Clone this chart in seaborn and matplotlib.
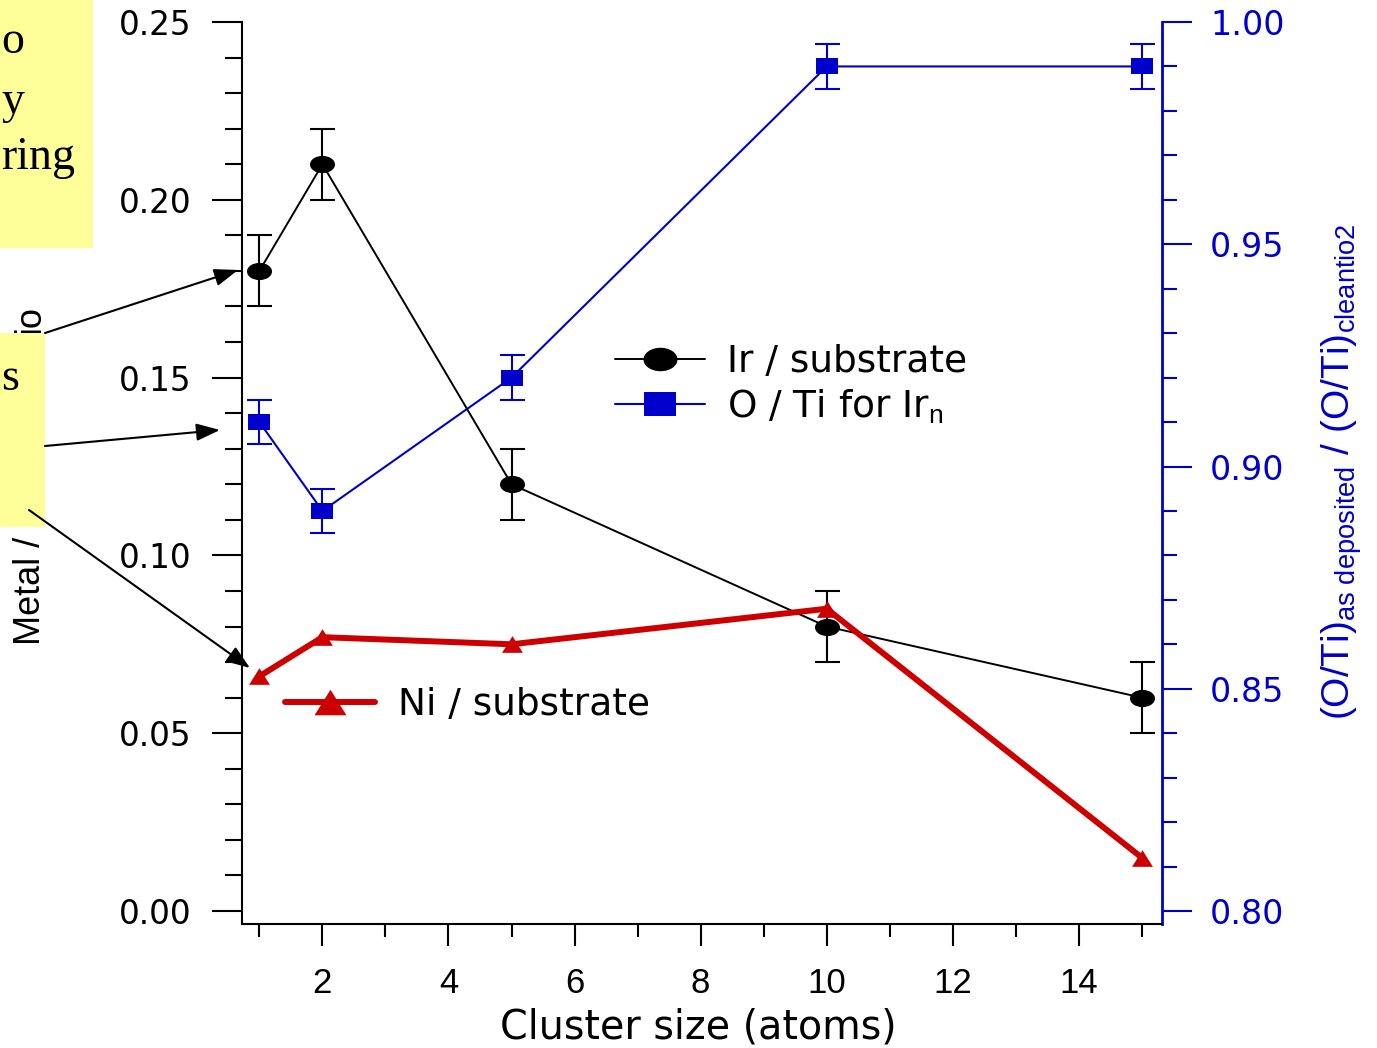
import matplotlib
matplotlib.use("Agg")
import matplotlib.pyplot as plt
import seaborn as sns
from matplotlib.path import Path
from matplotlib.lines import Line2D
from matplotlib.patches import Rectangle, FancyArrowPatch
from matplotlib.ticker import MultipleLocator, FixedLocator

# ---- data ----
cluster_size = [1, 2, 5, 10, 15]
ir_substrate = [0.18, 0.21, 0.12, 0.08, 0.06]
ir_substrate_err = [0.01, 0.01, 0.01, 0.01, 0.01]
o_ti_ratio = [0.91, 0.89, 0.92, 0.99, 0.99]
o_ti_ratio_err = [0.005, 0.005, 0.005, 0.005, 0.005]
ni_substrate = [0.066, 0.077, 0.075, 0.085, 0.015]

x_major_ticks = [2, 4, 6, 8, 10, 12, 14]
x_minor_ticks = [1, 3, 5, 7, 9, 11, 13, 15]
left_ticks = [0.00, 0.05, 0.10, 0.15, 0.20, 0.25]
right_ticks = [0.80, 0.85, 0.90, 0.95, 1.00]

BLUE = "#0000CC"
RED = "#CC0000"
YELLOW = "#FFFF99"

sns.set_theme(style="ticks")
plt.rcParams["font.family"] = ["DejaVu Sans"]
plt.rcParams["text.color"] = "black"
plt.rcParams["axes.labelcolor"] = "black"
plt.rcParams["mathtext.fontset"] = "custom"
plt.rcParams["mathtext.rm"] = "Liberation Sans"
plt.rcParams["mathtext.it"] = "Liberation Sans:italic"
plt.rcParams["mathtext.bf"] = "Liberation Sans:bold"

W, H = 1377, 1048


def fx(px):
    return px / W


def fy(py):
    return 1 - py / H


fig = plt.figure(figsize=(W / 100, H / 100), dpi=100)
fig.patch.set_facecolor("white")

ax = fig.add_axes([fx(242), fy(924), (1162 - 242) / W, (924 - 22) / H])
ax2 = ax.twinx()
ax2.set_zorder(1)
ax.set_zorder(2)
ax.patch.set_visible(False)

# marker shapes: flattened ellipse, wide rectangle, wide triangle
_circ = Path.unit_circle()
ellipse = Path(_circ.vertices * [1.45, 1.0], _circ.codes)
rect = Path([(-1.35, -1), (1.35, -1), (1.35, 1), (-1.35, 1), (-1.35, -1)],
            [Path.MOVETO, Path.LINETO, Path.LINETO, Path.LINETO, Path.CLOSEPOLY])
tri = Path([(-1.25, -1), (1.25, -1), (0, 1), (-1.25, -1)],
           [Path.MOVETO, Path.LINETO, Path.LINETO, Path.CLOSEPOLY])

# O/Ti on the right axis
ax2.errorbar(cluster_size, o_ti_ratio, yerr=o_ti_ratio_err, fmt="none",
             ecolor=BLUE, elinewidth=1.5, capsize=9, capthick=1.5, zorder=2)
sns.lineplot(x=cluster_size, y=o_ti_ratio, ax=ax2, color=BLUE, linewidth=1.5,
             marker=rect, markersize=16.5, markeredgecolor=BLUE,
             markeredgewidth=0, errorbar=None, zorder=3)

# metal / substrate on the left axis
ax.errorbar(cluster_size, ir_substrate, yerr=ir_substrate_err, fmt="none",
            ecolor="black", elinewidth=1.5, capsize=9, capthick=1.5, zorder=2)
sns.lineplot(x=cluster_size, y=ir_substrate, ax=ax, color="black", linewidth=1.4,
             marker=ellipse, markersize=18, markeredgecolor="black",
             markeredgewidth=0, errorbar=None, zorder=3)
sns.lineplot(x=cluster_size, y=ni_substrate, ax=ax, color=RED, linewidth=4.3,
             marker=tri, markersize=15, markeredgecolor=RED,
             markeredgewidth=0, errorbar=None, zorder=4)

# limits and ticks
ax.set_xlim(0.724, 15.32)
ax.set_ylim(-0.00366, 0.25)
ax2.set_ylim(0.79708, 1.00)

ax.set_xticks(x_major_ticks, labels=[str(v) for v in x_major_ticks],
              fontfamily="Liberation Sans", fontsize=25)
ax.xaxis.set_minor_locator(FixedLocator(x_minor_ticks))
ax.set_yticks(left_ticks, labels=[f"{v:.2f}" for v in left_ticks], fontsize=23.5)
ax.yaxis.set_minor_locator(MultipleLocator(0.01))
ax2.set_yticks(right_ticks, labels=[f"{v:.2f}" for v in right_ticks], fontsize=24)
ax2.yaxis.set_minor_locator(MultipleLocator(0.01))

ax.tick_params(axis="y", which="major", direction="out", length=21.6, width=1.5,
               color="black", labelcolor="black", pad=15, left=True, right=False)
ax.tick_params(axis="y", which="minor", direction="out", length=12, width=1.5,
               color="black", left=True, right=False)
ax.tick_params(axis="x", which="major", direction="out", length=16, width=1.5,
               color="black", labelcolor="black", pad=15, bottom=True, top=False)
ax.tick_params(axis="x", which="minor", direction="out", length=9, width=1.5,
               color="black", bottom=True, top=False)
ax2.tick_params(axis="y", which="major", direction="out", length=21.6, width=1.5,
                colors=BLUE, pad=13, right=True, left=False)
ax2.tick_params(axis="y", which="minor", direction="out", length=11, width=1.5,
                colors=BLUE, right=True, left=False)

for s in ["top", "right"]:
    ax.spines[s].set_visible(False)
for s in ["left", "bottom"]:
    ax.spines[s].set_color("black")
    ax.spines[s].set_linewidth(1.5)
for s in ["left", "top", "bottom"]:
    ax2.spines[s].set_visible(False)
ax2.spines["right"].set_color(BLUE)
ax2.spines["right"].set_linewidth(2)

# axis titles
ax.set_xlabel("Cluster size (atoms)", fontsize=28.5, color="black")
ax.xaxis.set_label_coords((698 - 242) / 920, -(1028 - 924) / 902)
ax.xaxis.label.set_va("center")

# left title: only its two ends show around the note box
ax.set_ylabel("Metal /", fontsize=26, color="black", fontfamily="Liberation Sans")
ax.yaxis.set_label_coords((40 - 242) / 920, (924 - 645) / 902)
ax.yaxis.label.set(ha="left", va="baseline", rotation_mode="anchor")
fig.text(fx(40), fy(333), "io", rotation=90, rotation_mode="anchor",
         ha="left", va="baseline", fontsize=26, color="black",
         fontfamily="Liberation Sans", zorder=3)

ax2.set_ylabel(r"(O/Ti)$_{\mathrm{as\ deposited}}$ / (O/Ti)$_{\mathrm{cleantio2}}$",
               fontsize=28, color=BLUE, fontfamily="Liberation Sans")
ax2.yaxis.set_label_coords((1350 - 242) / 920, (924 - 720) / 902)
ax2.yaxis.label.set(ha="left", va="baseline", rotation=90, rotation_mode="anchor")

# legends
h_ir = Line2D([], [], color="black", linewidth=1.4, marker=ellipse,
              markersize=24.5, markeredgewidth=0)
h_o = Line2D([], [], color=BLUE, linewidth=1.5, marker=rect,
             markersize=23, markeredgewidth=0)
leg1 = ax.legend([h_ir, h_o], ["Ir / substrate", r"O / Ti for Ir$_\mathrm{n}$"],
                 loc="center left", bbox_to_anchor=(fx(615), fy(385)),
                 bbox_transform=fig.transFigure, frameon=False, fontsize=27,
                 handlelength=2.4, handletextpad=0.59, labelspacing=0.2,
                 borderpad=0, borderaxespad=0, labelcolor="black")
ax.add_artist(leg1)

h_ni = Line2D([], [], color=RED, linewidth=4.3, marker=tri,
              markersize=23, markeredgewidth=0)
ax.legend([h_ni], ["Ni / substrate"], loc="center left",
          bbox_to_anchor=(fx(285), fy(705)), bbox_transform=fig.transFigure,
          frameon=False, fontsize=27, handlelength=2.4, handletextpad=0.61,
          borderpad=0, borderaxespad=0, labelcolor="black")

# note boxes on the left margin
fig.add_artist(Rectangle((0, fy(248)), fx(93), 248 / H, transform=fig.transFigure,
                         facecolor=YELLOW, edgecolor="none", zorder=10))
fig.add_artist(Rectangle((0, fy(527)), fx(45), (527 - 333) / H,
                         transform=fig.transFigure, facecolor=YELLOW,
                         edgecolor="none", zorder=10))
for txt, yb in [("o", 53), ("y", 113), ("ring", 169), ("s", 390)]:
    fig.text(fx(1), fy(yb), txt, ha="left", va="baseline",
             fontfamily="Liberation Serif", fontsize=33, color="black", zorder=11)


def pointer(x0, y0, x1, y1):
    fig.add_artist(FancyArrowPatch((fx(x0), fy(y0)), (fx(x1), fy(y1)),
                                   transform=fig.transFigure,
                                   arrowstyle="-|>,head_length=0.6,head_width=0.22",
                                   mutation_scale=24, linewidth=1.5, color="black",
                                   shrinkA=0, shrinkB=0, zorder=12))


pointer(45, 333, 238, 270)
pointer(45, 446, 220, 430)
pointer(29, 510, 250, 668)

fig.savefig("out.png", dpi=100, facecolor="white")
